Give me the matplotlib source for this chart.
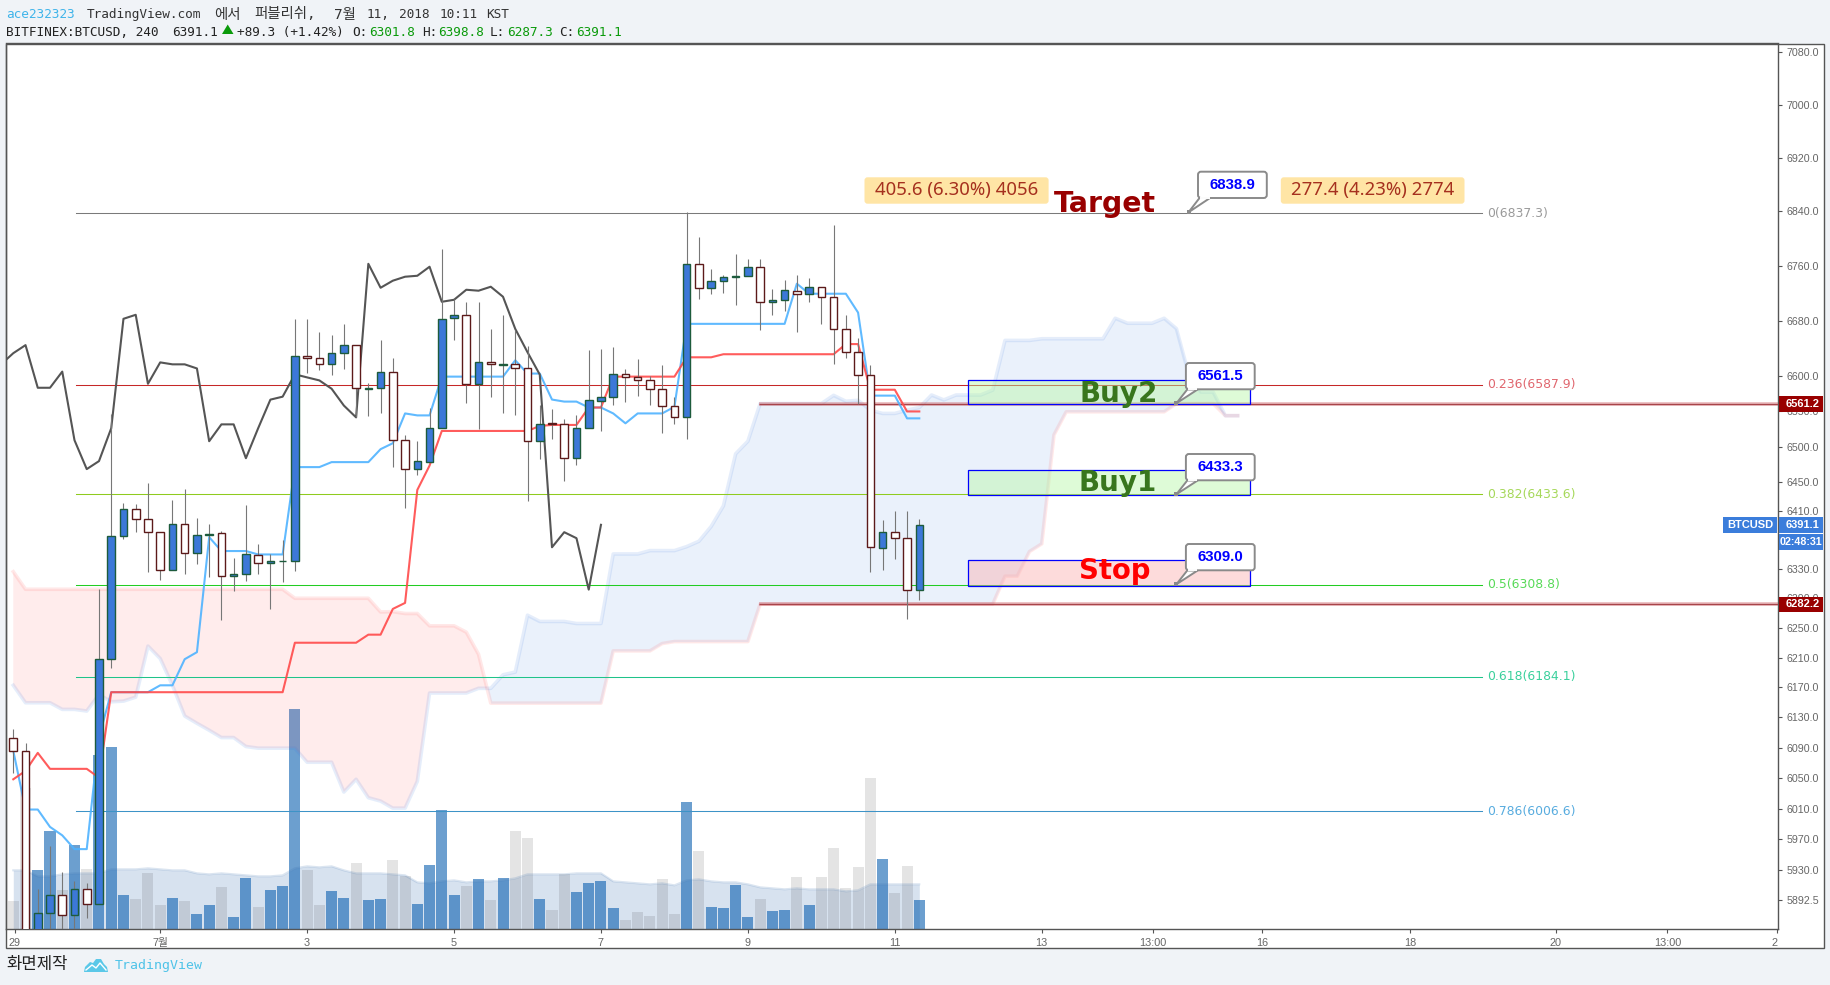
import matplotlib
matplotlib.use('Agg')
import matplotlib.pyplot as plt
import numpy as np
from matplotlib.patches import Rectangle, FancyBboxPatch, Polygon

W, H = 1830, 985

opens = [6102.8, 6085.7, 5840, 5875.7, 5899, 5872.6, 5905.7, 5887.4, 6208.6, 6375.4, 6412.8, 6398.9, 6380.9, 6328.2, 6392,
         6351.8, 6376.8, 6379.5, 6320, 6324, 6349, 6337.9, 6340.7, 6340.7, 6628.8, 6625.9, 6617.2, 6633.2, 6644.8, 6582.3,
         6583.7, 6606.8, 6509.3, 6468.7, 6478.5, 6526.2, 6684.2, 6688.6, 6589.4, 6620, 6615.7, 6617.2, 6611.3, 6507.9, 6533,
         6531.7, 6484, 6526.2, 6565.4, 6571, 6602.9, 6598.5, 6594.2, 6582.3, 6558.4, 6541.6, 6762.9, 6727.9, 6738.2, 6744,
         6745.4, 6758.6, 6707.5, 6710.4, 6723.6, 6719.2, 6729.4, 6714.8, 6668.2, 6634.6, 6602.6, 6358.7, 6380.9, 6372.6, 6301.8]
closes = [6085.7, 5840, 5875.7, 5899, 5872.6, 5905.7, 5887.4, 6208.6, 6375.4, 6412.8, 6398.9, 6380.9, 6328.2, 6392, 6351.8,
          6376.8, 6378.2, 6320, 6322.7, 6350.4, 6337.9, 6340.7, 6340.7, 6628.8, 6625.9, 6617.2, 6633.2, 6644.8, 6583.7, 6583.7,
          6606.8, 6509.3, 6468.7, 6479.9, 6526.2, 6682.8, 6688.6, 6589.4, 6620, 6617.2, 6617.2, 6611.3, 6507.9, 6531.7, 6531.7,
          6484, 6526.2, 6566.8, 6571, 6602.9, 6598.5, 6594.2, 6582.3, 6558.4, 6541.6, 6762.9, 6727.9, 6738.2, 6744, 6745.4,
          6758.6, 6707.5, 6710.4, 6725, 6719.2, 6729.4, 6714.8, 6668.2, 6634.6, 6602.6, 6360.1, 6380.9, 6372.6, 6302, 6391.1]
highs = [6115, 6095.4, 5905.7, 5961.8, 5927.7, 5917, 5914, 6302.5, 6546.3, 6421.6, 6420.2, 6449.5, 6380.9, 6425.7, 6441.1,
         6400.8, 6392.5, 6382.3, 6344.8, 6418.8, 6364.7, 6350.4, 6370.3, 6681.8, 6681.8, 6664.3, 6659.9, 6676, 6644.8, 6590,
         6652.6, 6626.4, 6516.8, 6508.4, 6554.7, 6785.3, 6710.9, 6706.6, 6706.6, 6668.7, 6689, 6667.2, 6644, 6558.9, 6553.3,
         6539.3, 6544.9, 6637.9, 6639.3, 6642.2, 6610.3, 6624.9, 6599.8, 6615.6, 6571, 6838.8, 6802.3, 6754.7, 6746.9, 6776.6,
         6769.3, 6769.3, 6725.5, 6738.6, 6746, 6741.5, 6729.4, 6820.3, 6687.6, 6655.5, 6615.6, 6398, 6410.5, 6410.5, 6398.8]
lows = [6056, 5830, 5830, 5850, 5845, 5845, 5869, 5887.4, 6195.9, 6371.7, 6381.8, 6326.4, 6314.8, 6328.2, 6323.6,
        6336.5, 6319, 6260.7, 6300.2, 6313.4, 6323.6, 6275.7, 6312, 6327.8, 6605.5, 6608.9, 6602.1, 6610.3, 6541.6, 6543,
        6547.7, 6471.9, 6414.7, 6460.7, 6478.5, 6526.2, 6652.6, 6562.2, 6525.8, 6570.6, 6548.2, 6544.9, 6424.8, 6483.2, 6511.2,
        6452.2, 6474.9, 6526.2, 6522.4, 6558.9, 6563.1, 6571.5, 6558.9, 6519.6, 6532, 6511.2, 6710.9, 6718.2, 6719.7, 6702.2,
        6745.4, 6667.2, 6687.6, 6693.4, 6664.3, 6706.6, 6675.9, 6617.6, 6626.4, 6561.2, 6326.4, 6329, 6344.4, 6261.6, 6287.3]

volume = [28, 141, 59, 98, 39, 84, 60, 174, 182, 34, 30, 56, 24, 31, 28, 15, 24, 42, 12, 51, 22, 39, 43, 220, 59,
          24, 38, 31, 66, 29, 30, 69, 53, 25, 64, 119, 34, 43, 50, 29, 51, 98, 91, 30, 19, 55, 37, 46, 48, 21,
          9, 17, 13, 50, 15, 127, 78, 22, 21, 44, 12, 30, 18, 19, 52, 24, 52, 81, 41, 62, 151, 70, 36, 63, 29]
volume_ma = [59, 59, 53, 53, 55, 56, 56, 56, 60, 60, 60, 61, 60, 59, 59, 56, 55, 56, 55, 54, 53, 53, 54, 61, 63,
             62, 63, 59, 56, 56, 56, 55, 54, 47, 46, 48, 49, 47, 48, 48, 49, 51, 55, 55, 55, 55, 56, 56, 56, 48,
             47, 46, 45, 46, 44, 49, 50, 48, 47, 47, 45, 42, 41, 40, 41, 40, 40, 40, 38, 39, 45, 45, 45, 45, 45]

tenkan = [6085.7, 6008.8, 6008.8, 5986.2, 5975.3, 5957.5, 5957.5, 6103.3, 6163.5, 6163.5, 6163.5, 6163.5, 6172.7, 6172.7, 6207.7,
          6217.2, 6374, 6354.9, 6354.9, 6354.9, 6350.2, 6350.2, 6350.2, 6471.5, 6471.5, 6471.5, 6478.5, 6478.5, 6478.5, 6478.5,
          6496.7, 6505.1, 6547.2, 6544.4, 6544.4, 6599.6, 6599.6, 6599.6, 6599.6, 6599.6, 6599.6, 6623, 6604, 6604, 6566.9,
          6564, 6564, 6555.6, 6555.6, 6547.2, 6533.2, 6547.2, 6547.2, 6547.2, 6556.6, 6675.5, 6675.5, 6675.5, 6675.5, 6675.5,
          6675.5, 6675.5, 6675.5, 6675.5, 6733.8, 6719.2, 6719.2, 6719.2, 6719.2, 6691.8, 6572.5, 6572.5, 6572.5, 6540.2, 6540.2]
kijun = [6048.3, 6059.3, 6083, 6062, 6062, 6062, 6062, 6050.5, 6163.5, 6163.5, 6163.5, 6163.5, 6163.5, 6163.5, 6163.5,
         6163.5, 6163.5, 6163.5, 6163.5, 6163.5, 6163.5, 6163.5, 6163.5, 6229.9, 6229.9, 6229.9, 6229.9, 6229.9, 6229.9, 6240.8,
         6240.8, 6275.7, 6283.9, 6439.6, 6473.6, 6522.4, 6522.4, 6522.4, 6522.4, 6522.4, 6522.4, 6522.4, 6522.4, 6529.5, 6530.9,
         6530.9, 6530.9, 6555.6, 6555.6, 6599.6, 6599.6, 6599.6, 6599.6, 6599.6, 6599.6, 6627.3, 6627.3, 6627.3, 6631.7, 6631.7,
         6631.7, 6631.7, 6631.7, 6631.7, 6631.7, 6631.7, 6631.7, 6631.7, 6646.3, 6646.3, 6580.9, 6580.9, 6580.9, 6550, 6550]
# lagging span starts one bar left of the first candle
lagging = [6617.2, 6633.2, 6644.8, 6583.7, 6583.7, 6606.8, 6509.3, 6468.7, 6479.9, 6526.2, 6682.8, 6688.6, 6589.4, 6620, 6617.2,
           6617.2, 6611.3, 6507.9, 6531.7, 6531.7, 6484, 6526.2, 6566.8, 6571, 6602.9, 6598.5, 6594.2, 6582.3, 6558.4, 6541.6,
           6762.9, 6727.9, 6738.2, 6744, 6745.4, 6758.6, 6707.5, 6710.4, 6725, 6723.6, 6729.4, 6714.8, 6668.2, 6634.6, 6602.6,
           6360.1, 6380.9, 6372.6, 6302, 6391.1]
lead_a = [6172.7, 6149.4, 6149.4, 6149.4, 6140.6, 6140.6, 6138.4, 6160.4, 6150.7, 6151.6, 6156.9, 6225.4, 6208.6, 6172.7, 6131.8,
          6122.1, 6112.9, 6103.2, 6103.2, 6091.4, 6089.2, 6089.2, 6089.2, 6089.2, 6070.7, 6070.7, 6070.7, 6031.6, 6048.3, 6024.2,
          6019.8, 6010.6, 6010.6, 6045.6, 6162.4, 6162.4, 6162.4, 6162.4, 6168.7, 6168.7, 6186.8, 6190.4, 6267.2, 6258.7, 6258.7,
          6258.7, 6255.9, 6255.9, 6255.9, 6350.9, 6350.9, 6350.9, 6355.5, 6355.5, 6355.5, 6361, 6368.4, 6388.8, 6417.4, 6490.2,
          6507.9, 6561.2, 6561.2, 6561.2, 6561.2, 6561.2, 6561.2, 6572.9, 6564.5, 6565.9, 6551.9, 6547.2, 6547.2, 6551.9, 6555.6,
          6573.4, 6566.4, 6573.4, 6573.4, 6573.4, 6580.4, 6651.6, 6651.6, 6651.6, 6654, 6654, 6654, 6654, 6654, 6654,
          6683.6, 6676.4, 6676.4, 6676.4, 6683.6, 6668.6, 6603.3, 6577.6, 6577.6, 6544, 6544]
lead_b = [6326.5, 6302.5, 6302.5, 6302.5, 6302.5, 6302.5, 6302.5, 6302.5, 6302.5, 6302.5, 6302.5, 6302.5, 6302.5, 6302.5, 6302.5,
          6302.5, 6302.5, 6302.5, 6302.5, 6302.5, 6302.5, 6302.5, 6302.5, 6290.2, 6290.2, 6290.2, 6290.2, 6290.2, 6290.2, 6290.2,
          6271.6, 6272, 6269.5, 6269.5, 6252.8, 6252.8, 6252.8, 6244.2, 6214.4, 6148.9, 6148.9, 6148.9, 6148.9, 6148.9, 6148.9,
          6148.9, 6148.9, 6148.9, 6148.9, 6218.9, 6218.9, 6218.9, 6218.9, 6228.8, 6231.5, 6231.5, 6231.5, 6231.5, 6231.5, 6231.5,
          6231.5, 6282.2, 6282.2, 6282.2, 6282.2, 6282.2, 6282.2, 6282.2, 6282.2, 6282.2, 6282.2, 6282.2, 6282.2, 6282.2, 6282.2,
          6282.2, 6282.2, 6282.2, 6282.2, 6282.2, 6282.2, 6320.4, 6320.4, 6354.2, 6364.8, 6516.8, 6549.5, 6549.5, 6549.5, 6549.5,
          6549.5, 6549.5, 6549.5, 6549.5, 6549.5, 6561.2, 6561.2, 6561.2, 6561.2, 6544, 6544]

fib_ratios = ['0', '0.236', '0.382', '0.5', '0.618', '0.786']
fib_prices = [6837.3, 6587.9, 6433.6, 6308.8, 6184.1, 6006.6]
fib_colors = ['#7a7a7a', '#c62828', '#8fcb1e', '#22cc22', '#1fc38a', '#3d93c7']
fib_text_colors = ['#9a9a9a', '#e0666e', '#a6d85a', '#58da58', '#3ad09c', '#58acdf']

box_names = ['Buy2', 'Buy1', 'Stop']
box_tops = [6595.2, 6467.3, 6342]
box_bottoms = [6561.2, 6431.9, 6307.4]
ray_prices = [6561.2, 6282.2]

price_ticks = [7080, 7000, 6920, 6840, 6760, 6680, 6600, 6550, 6500, 6450, 6410, 6330, 6290, 6250, 6210,
               6170, 6130, 6090, 6050, 6010, 5970, 5930, 5892.5]
time_ticks = [0.1, 12, 24, 36, 48, 60, 72, 84, 93.1, 102, 114.1, 126, 135.1, 144.06]
time_labels = ['29', '7월', '3', '5', '7', '9', '11', '13', '13:00', '16', '18', '20', '13:00', '2']

plt.rcParams['font.family'] = ['DejaVu Sans', 'Noto Sans CJK KR']

fig = plt.figure(figsize=(W / 100, H / 100), dpi=100, facecolor='#f0f3f7')


def frame(x0, y0, x1, y1):
    return [x0 / W, 1 - y1 / H, (x1 - x0) / W, (y1 - y0) / H]


# pixel layer behind everything, for the white chart card
bg = fig.add_axes([0, 0, 1, 1], zorder=0)
bg.set_xlim(0, W)
bg.set_ylim(H, 0)
bg.axis('off')
bg.add_patch(Rectangle((6.3, 43.5), 1823.5 - 6.3, 948 - 43.5, fc='white', ec='#555555', lw=1))

pos = frame(6.3, 43.5, 1778.3, 929.3)
xlim = (-0.57, 144.16)

# volume panel sits under the price panel
ax_vol = fig.add_axes(pos, zorder=1)
ax_vol.patch.set_alpha(0)
ax_vol.set_xlim(xlim)
ax_vol.set_ylim(0, 885.8)
ax_vol.axis('off')
vol_colors = ['#0a5fb0' if c >= o else '#222222' for o, c in zip(opens, closes)]
vol_alpha = [0.6 if c >= o else 0.12 for o, c in zip(opens, closes)]
x = np.arange(len(opens))
ax_vol.fill_between(x, 0, volume_ma, color='#3a70b0', alpha=0.2, lw=0)
ax_vol.plot(x, volume_ma, color='#3a70b0', alpha=0.18, lw=1.5)
for i in range(len(x)):
    ax_vol.bar(x[i], volume[i], width=0.9, color=vol_colors[i], alpha=vol_alpha[i], lw=0)

ax = fig.add_axes(pos, zorder=2)
ax.patch.set_alpha(0)
ax.set_yscale('log')
ax.set_xlim(xlim)
ax.set_ylim(5854.9, 7093.5)

# cloud
xc = np.arange(len(lead_a))
a = np.array(lead_a)
b = np.array(lead_b)
ax.fill_between(xc, a, b, where=a >= b, interpolate=True, color='#3a78e0', alpha=0.1, lw=0, zorder=2)
ax.fill_between(xc, a, b, where=a <= b, interpolate=True, color='#ff5252', alpha=0.11, lw=0, zorder=2)
ax.plot(xc, lead_a, color='#3a78e0', alpha=0.13, lw=2.6, zorder=2)
ax.plot(xc, lead_b, color='#ff5252', alpha=0.13, lw=2.6, zorder=2)

# fib levels
for ratio, price, col, tcol in zip(fib_ratios, fib_prices, fib_colors, fib_text_colors):
    ax.plot([5.1, 120], [price, price], color=col, lw=0.75, zorder=3)
    ax.text(120.37, price, f'{ratio}({price})', color=tcol, fontsize=8.9, va='center', ha='left', zorder=3)

# the two rays that start at bar 61
for price in ray_prices:
    ax.plot([60.9, xlim[1]], [price, price], color='#c44a50', alpha=0.4, lw=2.6, zorder=4, solid_capstyle='butt')
    ax.plot([60.9, xlim[1]], [price, price], color='#a8444a', lw=0.9, zorder=4, solid_capstyle='butt')

# ichimoku lines
ax.plot(x, tenkan, color='#4fb3ff', lw=1.5, alpha=0.9, zorder=4)
ax.plot(x, kijun, color='#ff4a4a', lw=1.5, alpha=0.9, zorder=4)
ax.plot(np.arange(len(lagging)) - 1, lagging, color='#555555', lw=1.5, zorder=4)

# candles
ax.vlines(x, lows, highs, color='#777777', lw=0.8, zorder=5)
for i in range(len(x)):
    up = closes[i] >= opens[i]
    ax.bar(x[i], abs(closes[i] - opens[i]), bottom=min(opens[i], closes[i]), width=0.62,
           color='#3c78d8' if up else 'white', edgecolor='#1d5b3c' if up else '#5c1a1a', lw=1, zorder=6)

# order boxes
for top, bottom, name in zip(box_tops, box_bottoms, box_names):
    fc = '#fbb0b0' if name == 'Stop' else '#b7f7a8'
    ax.bar(89.5, top - bottom, bottom=bottom, width=23, color=fc, alpha=0.45, lw=0, zorder=7)
    ax.bar(89.5, top - bottom, bottom=bottom, width=23, fill=False, edgecolor='#0000ff', lw=0.9, zorder=7)

ax.yaxis.tick_right()
ax.set_yticks(price_ticks, labels=[f'{p:.1f}' for p in price_ticks])
ax.minorticks_off()
ax.set_xticks(time_ticks, labels=time_labels)
ax.tick_params(axis='y', length=3, width=0.8, color='#555555', labelcolor='#666666', labelsize=7.7, pad=2.8)
ax.tick_params(axis='x', length=3, width=0.8, color='#555555', labelcolor='#666666', labelsize=7.8, pad=3)
for lab in ax.get_yticklabels() + ax.get_xticklabels():
    lab.set_fontfamily(['Liberation Sans', 'Noto Sans CJK KR'])
ax.get_xticklabels()[-1].set_ha('right')
for s in ax.spines.values():
    s.set_color('#555555')
    s.set_linewidth(1)

# pixel layer on top, for text drawn over the chart
ov = fig.add_axes([0, 0, 1, 1], zorder=3)
ov.patch.set_alpha(0)
ov.set_xlim(0, W)
ov.set_ylim(H, 0)
ov.axis('off')

mono = ['DejaVu Sans Mono', 'Noto Sans CJK KR']
ov.text(6, 14.5, 'ace232323', color='#3fb4ea', family=mono, fontsize=9.2, va='center')
for tx, part in [(87, 'TradingView.com'), (214, '에서'), (254.5, '퍼블리쉬,'), (334, '7월'), (367, '11,'),
                 (398.7, '2018'), (439.7, '10:11'), (486.6, 'KST')]:
    ov.text(tx, 14.5, part, color='#333333', family=mono, fontsize=9.2 if part.isascii() else 10.4, va='center')
ov.text(6.5, 32.5, 'BITFINEX:BTCUSD, 240', color='#222222', family=mono, fontsize=9.2, va='center')
ov.text(172, 32.5, '6391.1', color='#222222', family=mono, fontsize=9.2, va='center')
ov.add_patch(Polygon([(222, 34), (233.5, 34), (227.7, 24.5)], fc='#0a9a0a', lw=0))
ov.text(236.6, 32.5, '+89.3 (+1.42%)', color='#222222', family=mono, fontsize=9.2, va='center')
for lx, lab, vx, val in [(352.7, 'O:', 369.6, '6301.8'), (421.9, 'H:', 438.4, '6398.8'),
                         (490, 'L:', 507.6, '6287.3'), (559, 'C:', 576, '6391.1')]:
    ov.text(lx, 32.5, lab, color='#222222', family=mono, fontsize=9.2, va='center')
    ov.text(vx, 32.5, val, color='#0a9a0a', family=mono, fontsize=9.2, va='center')

# footer
ov.text(6, 965, '화면제작', color='#222222', family=['Noto Sans CJK KR'], fontsize=12, va='center')
ov.add_patch(Polygon([(84, 972), (85, 967), (90, 962), (93, 963), (96, 959), (101, 959), (104, 964), (107, 967), (108, 972)],
                     fc='#5bc8e8', lw=0))
ov.plot([86, 92, 96, 100, 106], [970, 965, 968, 963, 970], color='white', lw=1)
ov.text(115, 965.5, 'TradingView', color='#4fc3e8', family=mono, fontsize=9.5, va='center')

# big labels
ov.text(1105, 211.7, 'Target', color='#990000', fontsize=20.4, fontweight='bold', ha='center', va='baseline')
ov.text(1118.7, 401.7, 'Buy2', color='#38761d', fontsize=20, fontweight='bold', ha='center', va='baseline')
ov.text(1118, 491, 'Buy1', color='#38761d', fontsize=20, fontweight='bold', ha='center', va='baseline')
ov.text(1114.3, 579.3, 'Stop', color='#ff0000', fontsize=19.8, fontweight='bold', ha='center', va='baseline')

# yellow measure tags
for x0, x1, txt in [(864.5, 1048.6, '405.6 (6.30%) 4056'), (1280.8, 1464.5, '277.4 (4.23%) 2774')]:
    ov.add_patch(FancyBboxPatch((x0 + 2, 179.3), x1 - x0 - 4, 22.4, boxstyle='round,pad=2,rounding_size=3', fc='#ffe5a5', lw=0))
    ov.text((x0 + x1) / 2, 190.3, txt, color='#a5301e', family=['Noto Sans'], fontsize=13.4, ha='center', va='center')

# price callouts
for bx, by, tipy, txt in [(1198, 171.7, 212.3, '6838.9'), (1185.9, 363, 403.3, '6561.5'),
                          (1185.9, 454, 494.3, '6433.3'), (1185.9, 544, 584.3, '6309.0')]:
    bw, bh = 68.8, 26.3
    tip = (bx - 9.5, tipy)
    ov.add_patch(Polygon([tip, (bx + 1.5, by + bh), (bx + 12, by + bh)], fc='white', ec='#8a8a8a', lw=1.4))
    ov.add_patch(FancyBboxPatch((bx + 2, by + 2), bw - 4, bh - 4, boxstyle='round,pad=2,rounding_size=3', fc='white', ec='#8a8a8a', lw=1.4))
    ov.plot([bx + 3, bx + 10.5], [by + bh, by + bh], color='white', lw=1.4)
    ov.plot([tip[0]], [tip[1]], 's', color='#8a8a8a', ms=2.6, mew=0)
    ov.text(bx + bw / 2, by + bh / 2 - 0.3, txt, color='#0000ff', family=['Liberation Sans'], fontsize=10.8, fontweight='bold', ha='center', va='center')

# tags on the price scale
sans = ['Liberation Sans']
ov.add_patch(Rectangle((1723.3, 517), 53.7, 15.9, fc='#3b7ddb', lw=0))
ov.text(1750, 525, 'BTCUSD', color='white', family=sans, fontsize=8, fontweight='bold', ha='center', va='center')
ov.add_patch(Rectangle((1778.7, 517), 44.6, 15.9, fc='#3b7ddb', lw=0))
ov.text(1785.7, 525, '6391.1', color='white', family=sans, fontsize=8, fontweight='bold', ha='left', va='center')
ov.add_patch(Rectangle((1778.7, 534), 44.6, 15.6, fc='#3b7ddb', lw=0))
ov.text(1801, 542, '02:48:31', color='white', family=sans, fontsize=7.7, fontweight='bold', ha='center', va='center')
for yc, val in [(403.8, '6561.2'), (604.4, '6282.2')]:
    ov.add_patch(Rectangle((1778.7, yc - 7.8), 44.6, 15.6, fc='#990000', lw=0))
    ov.text(1785.7, yc, val, color='white', family=sans, fontsize=8, fontweight='bold', ha='left', va='center')

plt.savefig('out.png', dpi=100)
